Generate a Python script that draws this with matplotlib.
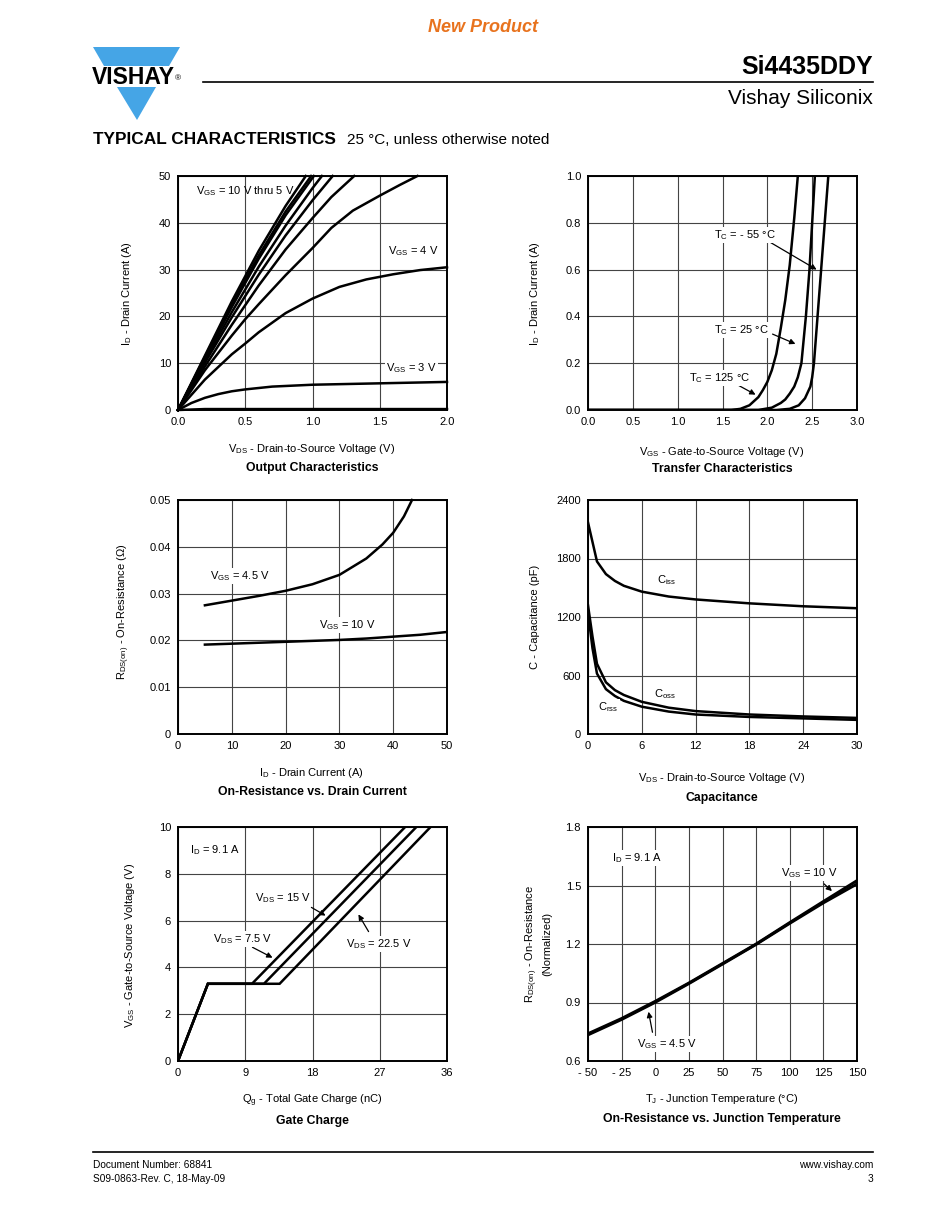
import matplotlib
matplotlib.use('Agg')
import matplotlib.pyplot as plt
from matplotlib.patches import Polygon
from matplotlib.lines import Line2D

plt.rcParams['font.family'] = ['Liberation Sans', 'DejaVu Sans']
plt.rcParams['mathtext.default'] = 'regular'

# ---------------- data ----------------
# Output characteristics (VDS in V, ID in A)
out_v1 = [0, 0.2, 0.4, 0.6, 0.8, 0.95]
out_i1 = [0, 11.6, 23.2, 34.0, 43.6, 50]
out_v2 = [0, 0.2, 0.4, 0.6, 0.8, 0.99]
out_i2 = [0, 11.3, 22.5, 33.0, 42.4, 50]
out_v3 = [0, 0.2, 0.4, 0.6, 0.8, 1.01]
out_i3 = [0, 11.1, 22.0, 32.3, 41.6, 50]
out_v4 = [0, 0.2, 0.4, 0.6, 0.8, 1.0, 1.07]
out_i4 = [0, 10.6, 20.9, 30.6, 39.4, 47.4, 50]
out_v5 = [0, 0.2, 0.4, 0.6, 0.8, 1.0, 1.15]
out_i5 = [0, 10.1, 19.8, 28.9, 37.3, 44.8, 50]
out_v6 = [0, 0.2, 0.4, 0.6, 0.8, 1.0, 1.14, 1.31]
out_i6 = [0, 9.3, 18.2, 26.6, 34.3, 41.0, 45.5, 50]
out_v7 = [0, 0.2, 0.4, 0.5, 0.6, 0.8, 1.0, 1.14, 1.3, 1.5, 1.65, 1.78]
out_i7 = [0, 8.5, 15.9, 19.4, 22.6, 28.8, 34.6, 38.9, 42.6, 45.8, 48.1, 50]
out_v_4v = [0, 0.2, 0.4, 0.5, 0.6, 0.8, 1.0, 1.2, 1.4, 1.6, 1.8, 2.0]
out_i_4v = [0, 6.5, 11.9, 14.2, 16.6, 20.7, 23.8, 26.3, 27.9, 29.0, 29.9, 30.5]
out_v_3v = [0, 0.1, 0.2, 0.3, 0.4, 0.5, 0.7, 1.0, 1.5, 2.0]
out_i_3v = [0, 1.5, 2.6, 3.4, 4.0, 4.4, 5.0, 5.4, 5.7, 6.0]
out_v_2v = [0, 0.2, 2.0]
out_i_2v = [0, 0.2, 0.2]

# Transfer characteristics (VGS in V, ID in A)
tr_v_125 = [0, 1.6, 1.7, 1.8, 1.9, 1.95, 2.0, 2.05, 2.1, 2.15, 2.2, 2.25, 2.3, 2.34]
tr_i_125 = [0, 0, 0.005, 0.02, 0.055, 0.085, 0.12, 0.17, 0.24, 0.35, 0.47, 0.62, 0.82, 1.0]
tr_v_25 = [0, 1.9, 2.05, 2.15, 2.2, 2.25, 2.3, 2.34, 2.38, 2.43, 2.47, 2.5, 2.53]
tr_i_25 = [0, 0, 0.01, 0.03, 0.045, 0.07, 0.1, 0.14, 0.2, 0.4, 0.6, 0.8, 1.0]
tr_v_m55 = [0, 2.1, 2.25, 2.35, 2.42, 2.48, 2.5, 2.52, 2.56, 2.6, 2.64, 2.68]
tr_i_m55 = [0, 0, 0.005, 0.02, 0.05, 0.1, 0.14, 0.2, 0.4, 0.6, 0.8, 1.0]

# On-resistance vs drain current
ron_id = [5, 10, 15, 20, 25, 30, 35, 38, 40, 42, 43.5]
ron_45 = [0.0275, 0.0285, 0.0295, 0.0306, 0.032, 0.034, 0.0375, 0.0405, 0.043, 0.0465, 0.05]
ron_id10 = [5, 10, 20, 30, 35, 40, 45, 50]
ron_10 = [0.0191, 0.0193, 0.0197, 0.0201, 0.0204, 0.0208, 0.0212, 0.0218]

# Capacitance (VDS in V, C in pF)
cap_v_iss = [0, 1, 2, 3, 4, 6, 9, 12, 18, 24, 30]
ciss = [2170, 1770, 1640, 1570, 1520, 1460, 1410, 1380, 1340, 1310, 1290]
cap_v = [0, 0.5, 1, 2, 3, 4, 6, 9, 12, 18, 24, 30]
coss = [1320, 1000, 720, 530, 450, 400, 330, 270, 235, 200, 180, 165]
crss = [1250, 880, 620, 460, 390, 340, 280, 230, 200, 175, 160, 145]

# Gate charge (Qg in nC, VGS in V)
qg_75 = [0, 4.0, 9.9, 30.4]
vg_75 = [0, 3.3, 3.3, 10]
qg_15 = [0, 4.0, 11.5, 31.9]
vg_15 = [0, 3.3, 3.3, 10]
qg_225 = [0, 4.0, 13.6, 33.8]
vg_225 = [0, 3.3, 3.3, 10]

# On-resistance vs junction temperature
tj = [-50, -25, 0, 25, 50, 75, 100, 125, 150]
rn_10 = [0.74, 0.818, 0.906, 1.0, 1.1, 1.2, 1.31, 1.418, 1.525]
rn_45 = [0.734, 0.813, 0.901, 0.997, 1.097, 1.198, 1.306, 1.411, 1.508]

# ---------------- figure ----------------
W, H = 950, 1230
fig = plt.figure(figsize=(9.5, 12.3), dpi=100)

FS = 8.0


def fx(x):
    return x / W


def fy(y):
    return 1 - y / H


def add_axes(l, t, r, b):
    return fig.add_axes([fx(l), fy(b), (r - l) / W, (b - t) / H])


def style(ax, xlim, ylim, xticks, yticks, xlabels, ylabels):
    ax.set_xlim(xlim)
    ax.set_ylim(ylim)
    ax.set_xticks(xticks)
    ax.set_yticks(yticks)
    ax.set_xticklabels(xlabels)
    ax.set_yticklabels(ylabels)
    ax.tick_params(length=0, labelsize=FS, pad=5.0, colors='black')
    ax.grid(True, color='#444444', lw=0.8)
    ax.set_axisbelow(True)
    for s in ax.spines.values():
        s.set_linewidth(1.4)
        s.set_color('black')


def ftext(x, y, s, size=FS, ha='left', va='center', bg=False, **kw):
    bbox = dict(facecolor='white', edgecolor='none', pad=1.0) if bg else None
    fig.text(fx(x), fy(y), s, fontsize=size, ha=ha, va=va, bbox=bbox, **kw)


def arrow(x1, y1, x2, y2):
    fig.add_artist(matplotlib.patches.FancyArrowPatch(
        (fx(x1), fy(y1)), (fx(x2), fy(y2)), transform=fig.transFigure,
        arrowstyle='-|>', mutation_scale=8, color='black', lw=0.9))


LW = 1.8

# ---- Chart 1: Output characteristics ----
ax1 = add_axes(178, 176, 447, 410)
style(ax1, (0, 2), (0, 50), [0, 0.5, 1.0, 1.5, 2.0], [0, 10, 20, 30, 40, 50],
      ['0.0', '0.5', '1.0', '1.5', '2.0'], ['0', '10', '20', '30', '40', '50'])
for v, i in [(out_v1, out_i1), (out_v2, out_i2), (out_v3, out_i3), (out_v4, out_i4),
             (out_v5, out_i5), (out_v6, out_i6), (out_v7, out_i7), (out_v_4v, out_i_4v),
             (out_v_3v, out_i_3v), (out_v_2v, out_i_2v)]:
    ax1.plot(v, i, color='black', lw=LW, solid_joinstyle='round', clip_on=False)
ftext(196, 191, 'V$_{GS}$ = 10 V thru 5 V')
ftext(388, 251, 'V$_{GS}$ = 4 V')
ftext(386, 368, 'V$_{GS}$ = 3 V', bg=True)
ftext(312, 449, 'V$_{DS}$ - Drain-to-Source Voltage (V)', ha='center')
ftext(312, 468, 'Output Characteristics', size=8.8, ha='center', weight='bold')
ftext(127, 293, 'I$_D$ - Drain Current (A)', ha='center', rotation=90)

# ---- Chart 2: Transfer characteristics ----
ax2 = add_axes(588, 176, 857, 410)
style(ax2, (0, 3), (0, 1), [0, 0.5, 1.0, 1.5, 2.0, 2.5, 3.0], [0, 0.2, 0.4, 0.6, 0.8, 1.0],
      ['0.0', '0.5', '1.0', '1.5', '2.0', '2.5', '3.0'],
      ['0.0', '0.2', '0.4', '0.6', '0.8', '1.0'])
for v, i in [(tr_v_125, tr_i_125), (tr_v_25, tr_i_25), (tr_v_m55, tr_i_m55)]:
    ax2.plot(v, i, color='black', lw=LW, solid_joinstyle='round')
ftext(714, 235, 'T$_C$ = - 55 °C', bg=True)
arrow(768, 241, 819, 271)
ftext(714, 330, 'T$_C$ = 25 °C', bg=True)
arrow(770, 333, 798, 345)
ftext(689, 378, 'T$_C$ = 125 °C', bg=True)
arrow(736, 384, 758, 396)
ftext(722, 452, 'V$_{GS}$ - Gate-to-Source Voltage (V)', ha='center')
ftext(722, 469, 'Transfer Characteristics', size=8.8, ha='center', weight='bold')
ftext(535, 293, 'I$_D$ - Drain Current (A)', ha='center', rotation=90)

# ---- Chart 3: On-resistance vs drain current ----
ax3 = add_axes(178, 500, 447, 734)
style(ax3, (0, 50), (0, 0.05), [0, 10, 20, 30, 40, 50], [0, 0.01, 0.02, 0.03, 0.04, 0.05],
      ['0', '10', '20', '30', '40', '50'], ['0', '0.01', '0.02', '0.03', '0.04', '0.05'])
ax3.plot(ron_id, ron_45, color='black', lw=LW, solid_joinstyle='round', clip_on=False)
ax3.plot(ron_id10, ron_10, color='black', lw=LW, solid_joinstyle='round')
ftext(210, 576, 'V$_{GS}$ = 4.5 V', bg=True)
ftext(319, 625, 'V$_{GS}$ = 10 V', bg=True)
ftext(312, 773, 'I$_D$ - Drain Current (A)', ha='center')
ftext(312, 792, 'On-Resistance vs. Drain Current', size=8.8, ha='center', weight='bold')
ftext(124, 612, 'R$_{DS(on)}$ - On-Resistance (Ω)', ha='center', rotation=90)

# ---- Chart 4: Capacitance ----
ax4 = add_axes(588, 500, 857, 734)
style(ax4, (0, 30), (0, 2400), [0, 6, 12, 18, 24, 30], [0, 600, 1200, 1800, 2400],
      ['0', '6', '12', '18', '24', '30'], ['0', '600', '1200', '1800', '2400'])
ax4.plot(cap_v_iss, ciss, color='black', lw=LW, solid_joinstyle='round')
ax4.plot(cap_v, coss, color='black', lw=LW, solid_joinstyle='round')
ax4.plot(cap_v, crss, color='black', lw=LW, solid_joinstyle='round')
ftext(657, 580, 'C$_{iss}$', bg=True)
ftext(654, 694, 'C$_{oss}$', bg=True)
ftext(598, 707, 'C$_{rss}$', bg=True)
ftext(722, 778, 'V$_{DS}$ - Drain-to-Source Voltage (V)', ha='center')
ftext(722, 798, 'Capacitance', size=8.8, ha='center', weight='bold')
ftext(535, 617, 'C - Capacitance (pF)', ha='center', rotation=90)

# ---- Chart 5: Gate charge ----
ax5 = add_axes(178, 827, 447, 1061)
style(ax5, (0, 36), (0, 10), [0, 9, 18, 27, 36], [0, 2, 4, 6, 8, 10],
      ['0', '9', '18', '27', '36'], ['0', '2', '4', '6', '8', '10'])
for q, v in [(qg_75, vg_75), (qg_15, vg_15), (qg_225, vg_225)]:
    ax5.plot(q, v, color='black', lw=LW, solid_joinstyle='miter')
ftext(190, 850, 'I$_D$ = 9.1 A', bg=True)
ftext(255, 898, 'V$_{DS}$ = 15 V', bg=True)
arrow(309, 906, 328, 917)
ftext(213, 939, 'V$_{DS}$ = 7.5 V', bg=True)
arrow(250, 946, 275, 959)
ftext(346, 944, 'V$_{DS}$ = 22.5 V', bg=True)
arrow(370, 934, 357, 912)
ftext(312, 1101, 'Q$_g$ - Total Gate Charge (nC)', ha='center')
ftext(312, 1121, 'Gate Charge', size=8.8, ha='center', weight='bold')
ftext(130, 945, 'V$_{GS}$ - Gate-to-Source Voltage (V)', ha='center', rotation=90)

# ---- Chart 6: On-resistance vs junction temperature ----
ax6 = add_axes(588, 827, 857, 1061)
style(ax6, (-50, 150), (0.6, 1.8), [-50, -25, 0, 25, 50, 75, 100, 125, 150],
      [0.6, 0.9, 1.2, 1.5, 1.8],
      ['- 50', '- 25', '0', '25', '50', '75', '100', '125', '150'],
      ['0.6', '0.9', '1.2', '1.5', '1.8'])
ax6.plot(tj, rn_10, color='black', lw=2.1, solid_joinstyle='round')
ax6.plot(tj, rn_45, color='black', lw=2.1, solid_joinstyle='round')
ftext(612, 858, 'I$_D$ = 9.1 A', bg=True)
ftext(781, 873, 'V$_{GS}$ = 10 V', bg=True)
arrow(822, 882, 834, 893)
ftext(637, 1044, 'V$_{GS}$ = 4.5 V', bg=True)
arrow(653, 1035, 648, 1009)
ftext(722, 1099, 'T$_J$ - Junction Temperature (°C)', ha='center')
ftext(722, 1119, 'On-Resistance vs. Junction Temperature', size=8.8, ha='center', weight='bold')
ftext(538, 944, 'R$_{DS(on)}$ - On-Resistance\n(Normalized)', ha='center', rotation=90,
      multialignment='center', linespacing=1.2)

# ---------------- page decoration ----------------
ftext(483, 27, 'New Product', size=13, ha='center', weight='bold', style='italic',
      color='#E8731E')
blue = '#45A5E6'
fig.add_artist(Polygon([(fx(93), fy(47)), (fx(180), fy(47)), (fx(169), fy(66)), (fx(104), fy(66))],
                       closed=True, transform=fig.transFigure, facecolor=blue, edgecolor='none'))
fig.add_artist(Polygon([(fx(117), fy(87)), (fx(156), fy(87)), (fx(137), fy(120))],
                       closed=True, transform=fig.transFigure, facecolor=blue, edgecolor='none'))
ftext(92, 77, 'VISHAY', size=16.5, weight='bold')
ftext(175, 79, '®', size=6)
fig.add_artist(Line2D([fx(203), fx(873)], [fy(82), fy(82)], transform=fig.transFigure,
                      color='black', lw=1.2))
ftext(873, 67, 'Si4435DDY', size=18, ha='right', weight='bold')
ftext(873, 99, 'Vishay Siliconix', size=15, ha='right')
ftext(93, 140, 'TYPICAL CHARACTERISTICS', size=12.4, weight='bold')
ftext(347, 140, '25 °C, unless otherwise noted', size=11)

fig.add_artist(Line2D([fx(93), fx(873)], [fy(1152), fy(1152)], transform=fig.transFigure,
                      color='black', lw=1.2))
ftext(93, 1165, 'Document Number: 68841', size=7.3)
ftext(93, 1179, 'S09-0863-Rev. C, 18-May-09', size=7.3)
ftext(873, 1165, 'www.vishay.com', size=7.3, ha='right')
ftext(873, 1179, '3', size=7.3, ha='right')

fig.savefig('out.png', dpi=100)
